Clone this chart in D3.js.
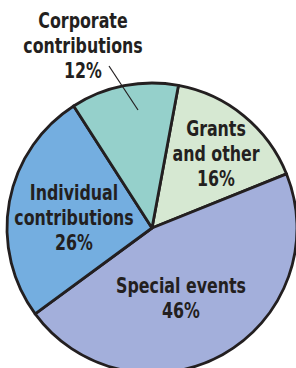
<!DOCTYPE html>
<html>
<head>
<meta charset="utf-8">
<script src="https://cdn.jsdelivr.net/npm/d3@7"></script>
<style>
  html, body { margin: 0; padding: 0; background: #fff; }
  svg { display: block; }
</style>
</head>
<body>
<div id="chart"></div>
<script>
"use strict"

// data, in drawing order (clockwise from just right of the top)
const categories = ["Grants and other", "Special events", "Individual contributions", "Corporate contributions"];
const shares = [16, 46, 26, 12];
const labelLines = [
  ["Grants", "and other", "16%"],
  ["Special events", "46%"],
  ["Individual", "contributions", "26%"],
  ["Corporate", "contributions", "12%"]
];
const sliceColors = ["#d6e8d2", "#a3afdb", "#74aee0", "#95d0cb"];

let width = 296, height = 368;
let cx = 152, cy = 228, radius = 145;
let ink = "#231f20";

let svg = d3.select("#chart")
            .append("svg")
            .attr("width", width)
            .attr("height", height);

let pie = d3.pie()
            .sort(null)
            .value(function(d) { return d; })
            .startAngle(10.5 * Math.PI / 180)
            .endAngle(10.5 * Math.PI / 180 + 2 * Math.PI);

let arc = d3.arc().innerRadius(0).outerRadius(radius);

let g = svg.append("g")
           .attr("transform", "translate(" + cx + "," + cy + ")");

g.selectAll("path")
  .data(pie(shares))
  .enter()
  .append("path")
  .attr("d", arc)
  .style("fill", function(d, i) { return sliceColors[i]; })
  .style("stroke", ink)
  .style("stroke-width", 2.8)
  .style("stroke-linejoin", "round");

// label placement (centre x, first baseline) picked by eye
let labelPos = [
  {x: 216, y: 136},
  {x: 181, y: 293},
  {x: 74, y: 200},
  {x: 83, y: 28}
];
let lineGap = 25;

// the original type is a narrow gothic, so squeeze the condensed face a bit more
labelLines.forEach(function(lines, i) {
  let t = svg.append("text")
             .attr("text-anchor", "middle")
             .attr("transform", "translate(" + labelPos[i].x + ",0) scale(0.8,1)")
             .style("font-family", "'DejaVu Sans Condensed', 'DejaVu Sans', sans-serif")
             .style("font-weight", "bold")
             .style("font-size", "22px")
             .style("fill", ink);
  lines.forEach(function(s, j) {
    t.append("tspan")
     .attr("x", 0)
     .attr("y", labelPos[i].y + j * lineGap)
     .text(s);
  });
});

// leader line for the corporate slice
svg.append("line")
   .attr("x1", 109).attr("y1", 66)
   .attr("x2", 138).attr("y2", 110)
   .style("stroke", ink)
   .style("stroke-width", 1.2);
</script>
</body>
</html>
